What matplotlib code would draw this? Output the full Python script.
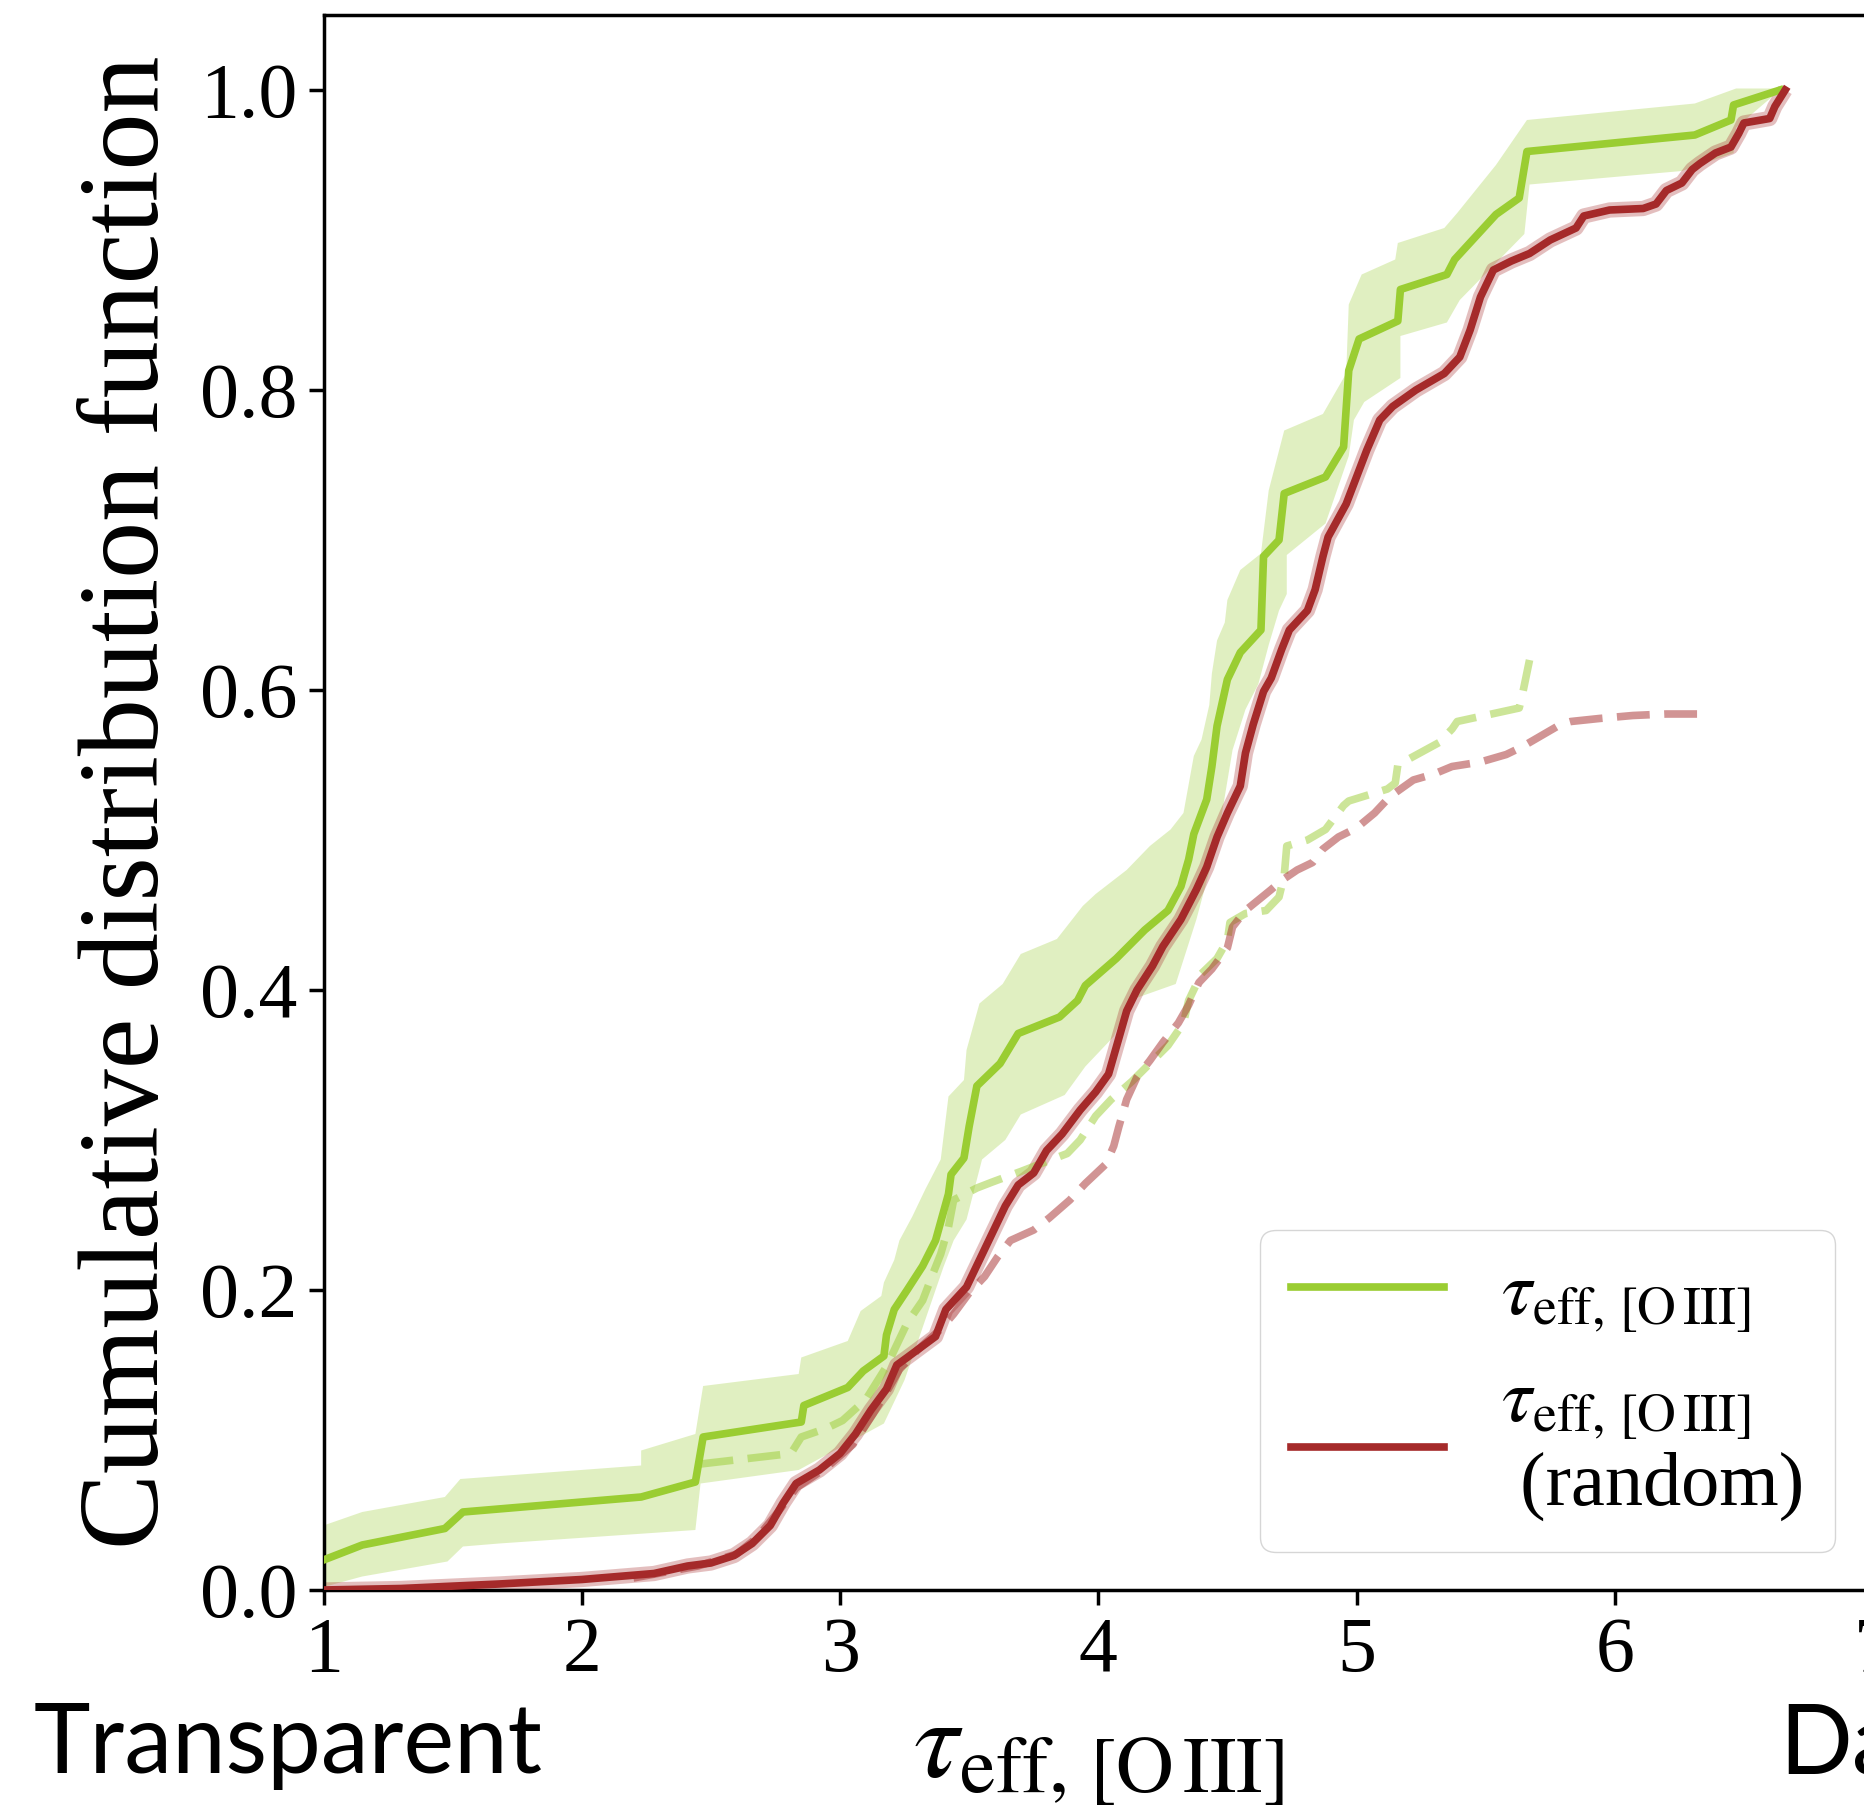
import numpy as np
import matplotlib
matplotlib.use("Agg")
import matplotlib.pyplot as plt

# ---- data -------------------------------------------------------------
# observed tau_eff CDF
obs_tau = [1.00, 1.15, 1.47, 1.54, 2.23, 2.44, 2.47, 2.85, 2.86, 3.03, 3.09, 3.17,
           3.18, 3.21, 3.26, 3.32, 3.37, 3.42, 3.43, 3.48, 3.50, 3.53, 3.56, 3.62,
           3.69, 3.85, 3.92, 3.95, 4.07, 4.18, 4.27, 4.32, 4.35, 4.37, 4.42, 4.44,
           4.46, 4.50, 4.55, 4.63, 4.64, 4.70, 4.72, 4.88, 4.95, 4.97, 5.01, 5.16,
           5.17, 5.35, 5.38, 5.54, 5.63, 5.66, 6.31, 6.45, 6.46, 6.64]
obs_cdf = [0.020, 0.030, 0.041, 0.052, 0.062, 0.072, 0.102, 0.112, 0.123, 0.135, 0.146, 0.156,
           0.170, 0.187, 0.200, 0.216, 0.233, 0.264, 0.277, 0.288, 0.309, 0.336, 0.341, 0.351,
           0.371, 0.382, 0.393, 0.403, 0.421, 0.440, 0.453, 0.469, 0.487, 0.504, 0.527, 0.549,
           0.576, 0.607, 0.625, 0.640, 0.689, 0.700, 0.731, 0.742, 0.762, 0.813, 0.834, 0.846,
           0.867, 0.877, 0.887, 0.917, 0.928, 0.959, 0.970, 0.980, 0.990, 1.000]

# uncertainty envelope of the observed CDF
band_hi_tau = [1.00, 1.15, 1.47, 1.53, 2.23, 2.23, 2.44, 2.47, 2.84, 2.85, 3.03, 3.08,
               3.16, 3.17, 3.21, 3.23, 3.28, 3.33, 3.39, 3.42, 3.48, 3.49, 3.54, 3.63,
               3.70, 3.84, 3.94, 3.99, 4.11, 4.20, 4.28, 4.33, 4.37, 4.40, 4.43, 4.44,
               4.46, 4.49, 4.50, 4.55, 4.63, 4.66, 4.72, 4.87, 4.96, 4.97, 5.02, 5.15,
               5.16, 5.34, 5.39, 5.54, 5.66, 6.31, 6.47, 6.64]
band_hi_cdf = [0.043, 0.052, 0.062, 0.074, 0.083, 0.093, 0.104, 0.136, 0.144, 0.155, 0.166, 0.186,
               0.196, 0.205, 0.220, 0.233, 0.249, 0.267, 0.287, 0.329, 0.340, 0.360, 0.391, 0.404,
               0.424, 0.434, 0.456, 0.464, 0.480, 0.496, 0.507, 0.518, 0.556, 0.567, 0.590, 0.611,
               0.633, 0.645, 0.660, 0.680, 0.691, 0.733, 0.773, 0.784, 0.811, 0.857, 0.877, 0.887,
               0.898, 0.908, 0.918, 0.950, 0.980, 0.991, 1.001, 1.001]
band_lo_tau = [1.00, 1.15, 1.48, 1.54, 1.68, 2.44, 2.46, 2.84, 3.17, 3.25, 3.33, 3.40,
               3.44, 3.49, 3.55, 3.64, 3.70, 3.87, 3.95, 4.06, 4.12, 4.30, 4.38, 4.46,
               4.52, 4.57, 4.62, 4.66, 4.70, 4.73, 4.73, 4.88, 4.97, 4.99, 5.03, 5.17,
               5.17, 5.35, 5.40, 5.65, 5.67, 6.26, 6.46, 6.47, 6.64]
band_lo_cdf = [0.002, 0.009, 0.019, 0.029, 0.031, 0.040, 0.071, 0.080, 0.111, 0.140, 0.180, 0.215,
               0.233, 0.247, 0.287, 0.300, 0.317, 0.330, 0.349, 0.369, 0.393, 0.404, 0.447, 0.498,
               0.560, 0.587, 0.604, 0.630, 0.653, 0.664, 0.690, 0.711, 0.756, 0.780, 0.792, 0.808,
               0.836, 0.845, 0.860, 0.904, 0.937, 0.946, 0.958, 0.975, 1.000]

# randomised sight-line CDF
rnd_tau = [1.00, 1.30, 1.68, 2.00, 2.28, 2.41, 2.50, 2.59, 2.66, 2.73, 2.78, 2.83,
           2.92, 3.00, 3.06, 3.12, 3.18, 3.22, 3.26, 3.37, 3.41, 3.49, 3.54, 3.59,
           3.64, 3.69, 3.75, 3.80, 3.86, 3.93, 3.99, 4.04, 4.07, 4.11, 4.15, 4.21,
           4.25, 4.32, 4.38, 4.42, 4.46, 4.50, 4.55, 4.57, 4.60, 4.64, 4.67, 4.71,
           4.74, 4.81, 4.84, 4.87, 4.89, 4.96, 5.00, 5.04, 5.09, 5.14, 5.23, 5.34,
           5.40, 5.44, 5.48, 5.53, 5.60, 5.67, 5.75, 5.85, 5.88, 5.98, 6.11, 6.16,
           6.20, 6.26, 6.30, 6.33, 6.39, 6.45, 6.48, 6.50, 6.60, 6.62, 6.66]
rnd_cdf = [0.000, 0.001, 0.004, 0.007, 0.011, 0.016, 0.018, 0.023, 0.031, 0.043, 0.058, 0.071,
           0.080, 0.091, 0.104, 0.120, 0.134, 0.150, 0.155, 0.169, 0.187, 0.202, 0.220, 0.238,
           0.256, 0.270, 0.278, 0.293, 0.304, 0.320, 0.332, 0.344, 0.362, 0.386, 0.400, 0.416,
           0.429, 0.447, 0.467, 0.482, 0.502, 0.518, 0.536, 0.558, 0.577, 0.599, 0.608, 0.627,
           0.640, 0.653, 0.667, 0.689, 0.702, 0.724, 0.742, 0.760, 0.780, 0.789, 0.800, 0.811,
           0.822, 0.840, 0.862, 0.880, 0.886, 0.891, 0.900, 0.908, 0.916, 0.920, 0.921, 0.924,
           0.933, 0.938, 0.947, 0.951, 0.958, 0.962, 0.971, 0.978, 0.981, 0.989, 1.000]

# partial CDFs (dashed)
obs_sub_tau = [2.46, 2.81, 2.85, 2.95, 3.01, 3.10, 3.18, 3.26, 3.32, 3.36, 3.39, 3.42,
               3.44, 3.53, 3.59, 3.70, 3.88, 3.93, 3.99, 4.05, 4.13, 4.20, 4.27, 4.33,
               4.35, 4.40, 4.46, 4.50, 4.51, 4.57, 4.65, 4.70, 4.72, 4.73, 4.81, 4.88,
               4.95, 4.97, 5.12, 5.15, 5.16, 5.32, 5.37, 5.39, 5.63, 5.64, 5.67]
obs_sub_cdf = [0.084, 0.091, 0.102, 0.108, 0.113, 0.127, 0.149, 0.178, 0.193, 0.211, 0.224, 0.242,
               0.260, 0.268, 0.272, 0.279, 0.291, 0.300, 0.316, 0.327, 0.339, 0.351, 0.363, 0.378,
               0.393, 0.411, 0.421, 0.433, 0.445, 0.451, 0.453, 0.462, 0.476, 0.496, 0.500, 0.507,
               0.523, 0.526, 0.534, 0.538, 0.550, 0.565, 0.574, 0.579, 0.588, 0.595, 0.620]
rnd_sub_tau = [2.20, 2.45, 2.60, 2.68, 2.76, 2.83, 2.95, 3.05, 3.13, 3.19, 3.23, 3.30,
               3.39, 3.44, 3.50, 3.56, 3.61, 3.66, 3.75, 3.81, 3.89, 3.95, 4.03, 4.06,
               4.08, 4.11, 4.15, 4.20, 4.25, 4.31, 4.35, 4.39, 4.44, 4.50, 4.52, 4.57,
               4.62, 4.67, 4.71, 4.77, 4.83, 4.87, 4.93, 5.00, 5.07, 5.13, 5.22, 5.30,
               5.37, 5.48, 5.58, 5.64, 5.71, 5.79, 5.83, 5.94, 6.07, 6.20, 6.35]
rnd_sub_cdf = [0.008, 0.016, 0.024, 0.035, 0.052, 0.068, 0.082, 0.097, 0.118, 0.135, 0.147, 0.160,
               0.174, 0.184, 0.198, 0.209, 0.222, 0.233, 0.240, 0.248, 0.260, 0.271, 0.284, 0.296,
               0.309, 0.327, 0.342, 0.353, 0.365, 0.378, 0.390, 0.405, 0.414, 0.428, 0.442, 0.453,
               0.460, 0.467, 0.473, 0.480, 0.485, 0.494, 0.502, 0.508, 0.518, 0.529, 0.540, 0.544,
               0.549, 0.552, 0.557, 0.562, 0.569, 0.577, 0.579, 0.581, 0.583, 0.584, 0.584]

x_ticks = [1, 2, 3, 4, 5, 6, 7]
y_ticks = [0.0, 0.2, 0.4, 0.6, 0.8, 1.0]
y_ticklabels = ["0.0", "0.2", "0.4", "0.6", "0.8", "1.0"]

label_tau = r"$\tau_{\rm eff,\,[O\,III]}$"
label_random = label_tau + "\n (random)"

# ---- style ------------------------------------------------------------
plt.rcParams["font.family"] = ["Liberation Serif", "DejaVu Serif"]
plt.rcParams["mathtext.fontset"] = "stix"

GREEN = "#9acd32"
RED = "#a52a2a"

fig = plt.figure(figsize=(18.65, 18.07), dpi=100)
ax = fig.add_axes([0.17346, 0.12009, 0.83083, 0.87161])

# envelope around the observed CDF
poly_x = np.concatenate([band_hi_tau, band_lo_tau[::-1]])
poly_y = np.concatenate([band_hi_cdf, band_lo_cdf[::-1]])
ax.fill(poly_x, poly_y, color=GREEN, alpha=0.3, lw=0, zorder=1)

# envelope of the random draws
ax.plot(rnd_tau, rnd_cdf, color=RED, lw=11, alpha=0.3, zorder=2,
        solid_capstyle="butt")

dash = (0, (4.3, 1.9))
ax.plot(obs_sub_tau, obs_sub_cdf, color=GREEN, lw=5.5, alpha=0.5, ls=dash, zorder=3)
ax.plot(rnd_sub_tau, rnd_sub_cdf, color=RED, lw=5.5, alpha=0.5, ls=dash, zorder=3)

l1, = ax.plot(obs_tau, obs_cdf, color=GREEN, lw=5.5, zorder=4, label=label_tau)
l2, = ax.plot(rnd_tau, rnd_cdf, color=RED, lw=5.5, zorder=4, label=label_random)

ax.set_xlim(1, 7)
ax.set_ylim(0, 1.05)
ax.set_xticks(x_ticks)
ax.set_yticks(y_ticks)
ax.set_yticklabels(y_ticklabels)
ax.tick_params(axis="both", labelsize=56, length=11, width=2.5, pad=8)
for sp in ax.spines.values():
    sp.set_linewidth(2.5)

ax.set_ylabel("Cumulative distribution function", fontsize=82)
ax.yaxis.set_label_coords(-0.091, 0.5)
ax.set_xlabel(label_tau, fontsize=82)
ax.xaxis.set_label_coords(0.5, -0.073)

ax.legend(handles=[l1, l2], loc="lower right", fontsize=55, handlelength=2.0,
          handletextpad=0.75)

fig.text(0.0182, 0.0188, "Transparent", fontfamily="Lato", fontsize=69,
         ha="left", va="baseline")
fig.text(0.9539, 0.0188, "Dark", fontfamily="Lato", fontsize=69,
         ha="left", va="baseline")

fig.savefig("out.png", dpi=100)
